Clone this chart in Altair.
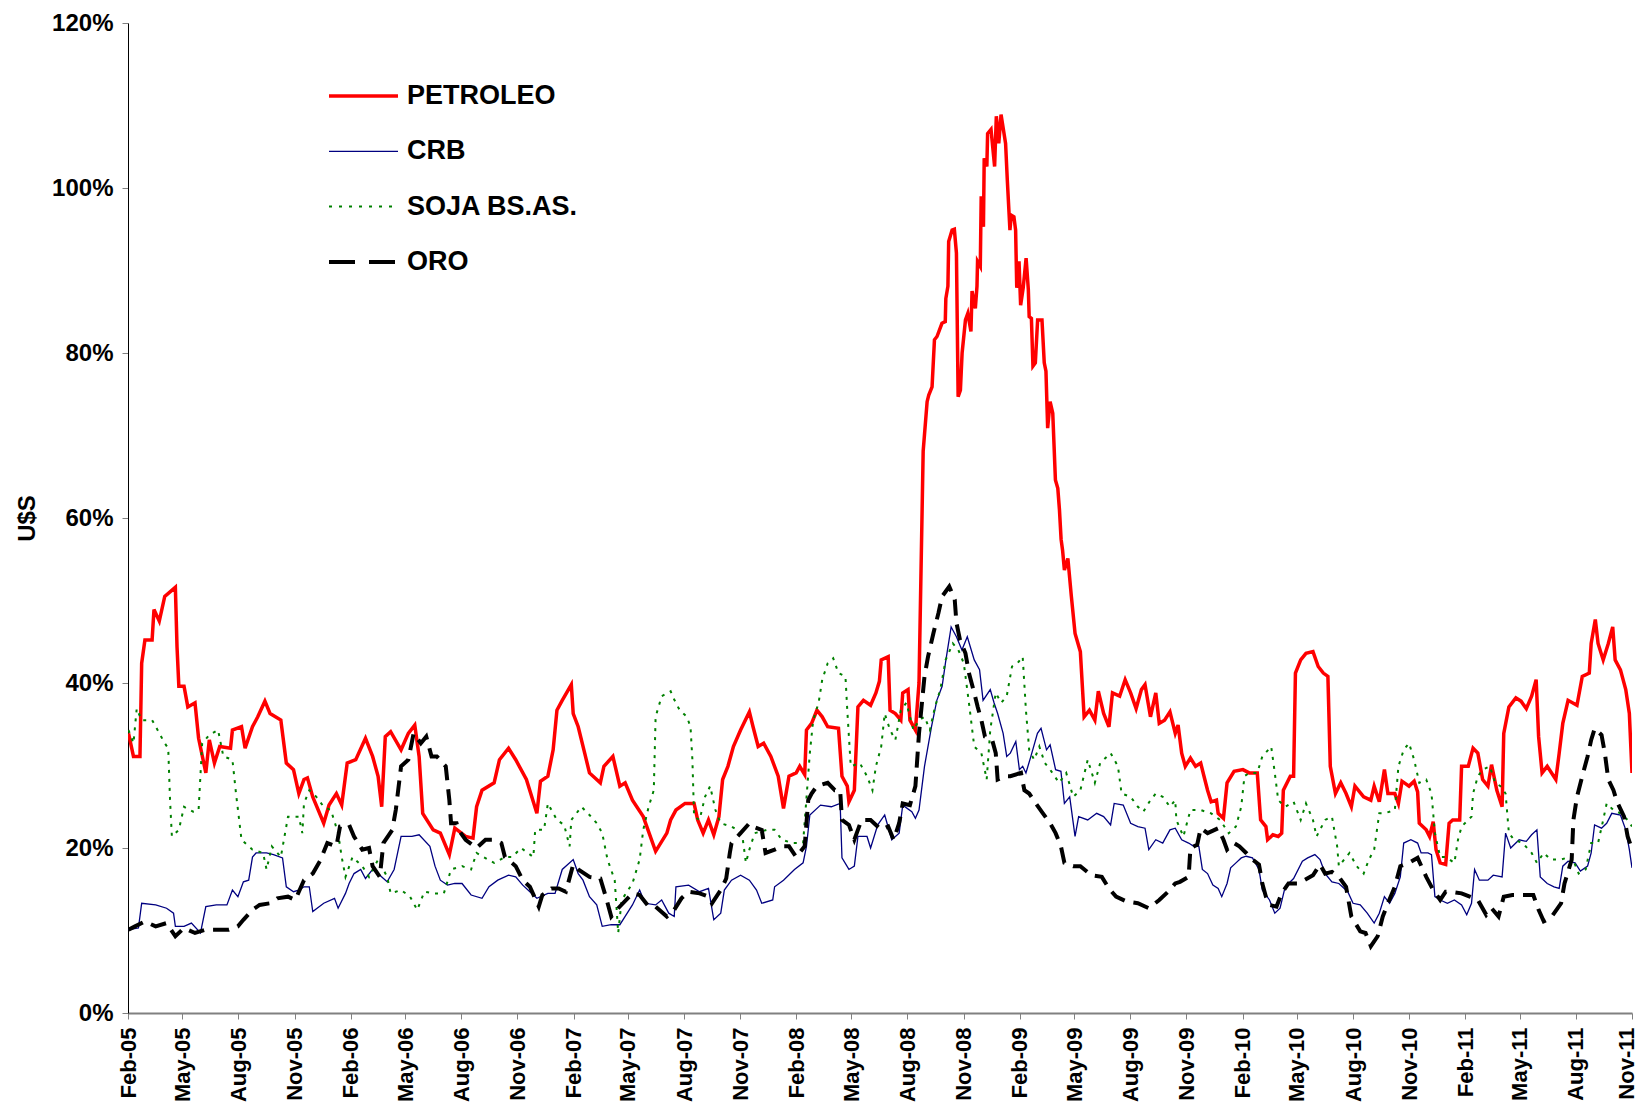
import altair as alt
import pandas as pd
import numpy as np

# (months after Feb-2005, percent)
PETROLEO = [(0.03,33.9),(0.32,31.1),(0.70,31.1),(0.80,42.4),(0.99,45.2),(1.37,45.2),(1.47,48.9),(1.75,47.5),(2.04,50.5),(2.62,51.6),
(2.71,44.4),(2.81,39.6),(3.09,39.6),(3.29,37.1),(3.67,37.6),(3.86,33.3),(4.25,29.1),(4.44,33.1),(4.72,30.3),(5.01,32.3),
(5.58,32.1),(5.68,34.3),(6.16,34.7),(6.35,32.1),(6.74,34.7),(7.02,35.9),(7.41,37.8),(7.69,36.3),(8.27,35.5),(8.56,30.3),
(8.94,29.5),(9.23,26.6),(9.51,28.3),(9.70,28.5),(9.99,26.2),(10.57,23.0),(10.85,25.2),(11.24,26.6),(11.52,25.2),(11.81,30.3),
(12.29,30.7),(12.86,33.3),(13.25,31.1),(13.54,28.7),(13.73,25.0),(13.92,33.5),(14.21,34.1),(14.78,31.9),(15.17,33.9),(15.51,34.9),
(15.74,31.1),(15.93,24.2),(16.50,22.2),(16.89,21.8),(17.37,19.2),(17.66,22.4),(18.23,21.4),(18.62,21.2),(18.81,25.0),(19.10,27.0),
(19.76,27.9),(20.05,30.7),(20.53,32.1),(20.91,30.7),(21.49,28.3),(22.06,24.2),(22.25,28.1),(22.64,28.7),(22.92,31.9),(23.12,36.7),
(23.40,37.9),(23.88,39.8),(23.98,36.3),(24.27,34.7),(24.65,31.5),(24.93,29.1),(25.51,27.9),(25.70,29.9),(26.18,31.1),(26.56,27.5),
(26.85,27.9),(27.24,25.8),(27.81,23.8),(28.48,19.6),(29.09,21.8),(29.29,23.4),(29.57,24.6),(30.05,25.4),(30.53,25.4),(30.72,23.4),
(31.01,21.8),(31.30,23.4),(31.59,21.6),(31.87,23.8),(32.07,28.3),(32.35,29.9),(32.64,32.3),(33.02,34.3),(33.50,36.5),(33.70,34.7),
(33.98,32.3),(34.27,32.7),(34.65,31.1),(35.04,28.7),(35.32,24.8),(35.61,28.7),(35.99,29.1),(36.19,29.9),(36.47,28.9),(36.57,34.3),
(36.86,35.1),(37.15,36.7),(37.43,35.9),(37.72,34.7),(38.30,34.5),(38.49,28.7),(38.78,27.5),(38.87,25.6),(39.16,27.0),(39.35,37.1),
(39.64,37.9),(40.02,37.3),(40.31,38.8),(40.50,40.2),(40.60,42.8),(40.98,43.2),(41.08,36.7),(41.36,36.3),(41.65,35.5),(41.75,38.8),
(42.03,39.2),(42.13,35.5),(42.42,34.3),(42.61,40.0),(42.83,68.1),(43.04,74.1),(43.13,74.9),(43.31,75.9),(43.44,81.6),(43.58,82.0),
(43.85,83.6),(44.03,83.8),(44.06,86.6),(44.17,88.1),(44.21,93.5),(44.39,94.9),(44.51,95.0),(44.62,92.1),(44.71,74.7),(44.83,75.5),
(44.92,80.0),(45.10,84.0),(45.23,84.8),(45.40,82.6),(45.46,87.5),(45.64,85.4),(45.73,88.1),(45.76,91.1),(45.91,90.5),(45.96,99.0),
(46.08,95.3),(46.12,103.6),(46.26,102.6),(46.30,106.6),(46.48,107.1),(46.67,102.6),(46.76,108.7),(46.89,105.4),(47.01,108.9),(47.25,105.4),
(47.34,101.0),(47.48,94.9),(47.55,96.7),(47.69,96.5),(47.78,94.9),(47.84,87.9),(47.96,91.1),(48.05,85.8),(48.20,87.9),(48.37,91.5),
(48.50,87.7),(48.55,84.4),(48.68,84.2),(48.77,78.4),(48.91,78.8),(49.04,84.0),(49.27,84.0),(49.39,78.8),(49.48,77.8),(49.57,70.9),
(49.70,74.1),(49.84,72.7),(49.98,64.6),(50.11,63.6),(50.20,61.0),(50.29,57.4),(50.37,56.1),(50.47,53.7),(50.66,55.1),(50.85,50.5),
(51.05,46.0),(51.33,43.8),(51.53,35.9),(51.81,36.7),(52.10,35.5),(52.29,39.0),(52.58,36.3),(52.87,34.7),(53.06,38.8),(53.44,38.4),
(53.73,40.4),(54.02,38.8),(54.31,36.9),(54.59,39.2),(54.78,39.8),(55.07,35.9),(55.36,38.8),(55.55,35.1),(55.84,35.5),(56.13,36.5),
(56.41,33.9),(56.56,34.9),(56.75,31.5),(56.94,29.9),(57.22,30.9),(57.50,29.9),(57.78,30.3),(57.96,28.7),(58.15,27.0),(58.34,25.6),
(58.62,25.8),(58.71,24.2),(58.99,23.6),(59.18,27.9),(59.55,29.3),(60.02,29.5),(60.39,29.1),(60.86,29.1),(61.05,23.4),(61.33,22.6),
(61.42,21.0),(61.70,21.6),(61.98,21.4),(62.17,21.8),(62.26,27.0),(62.64,28.7),(62.82,28.7),(62.92,41.2),(63.20,42.8),(63.48,43.6),
(63.85,43.8),(64.13,42.0),(64.41,41.2),(64.66,40.8),(64.79,29.9),(65.07,26.6),(65.35,27.9),(65.63,26.6),(65.91,25.0),(66.10,27.5),
(66.56,26.2),(66.94,25.8),(67.12,27.5),(67.40,25.6),(67.68,29.5),(67.87,26.6),(68.24,26.6),(68.43,25.4),(68.62,28.1),(68.99,27.5),
(69.27,28.1),(69.46,26.8),(69.55,23.0),(69.93,22.2),(70.11,21.4),(70.30,23.2),(70.45,19.8),(70.67,18.2),(70.96,18.0),(71.14,23.0),
(71.33,23.4),(71.70,23.4),(71.80,29.9),(72.17,29.9),(72.45,32.1),(72.73,31.5),(73.01,28.3),(73.29,27.5),(73.48,30.1),(73.76,27.0),
(74.04,25.0),(74.13,33.9),(74.41,37.1),(74.79,38.2),(75.07,37.8),(75.35,36.9),(75.63,38.4),(75.87,40.4),(76.00,33.5),(76.19,29.1),
(76.47,29.9),(76.94,28.3),(77.12,31.5),(77.31,35.1),(77.59,37.9),(78.06,37.3),(78.34,40.8),(78.71,41.2),(78.81,44.8),(79.03,47.7),
(79.18,44.8),(79.46,42.8),(79.74,44.8),(79.98,46.8),(80.11,42.8),(80.39,41.6),(80.67,39.2),(80.86,36.3),(81.0,29.1)]

CRB = [(0.03,10.1),(0.61,10.3),(0.80,13.3),(1.56,13.1),(2.14,12.7),(2.52,12.1),(2.62,10.5),(3.09,10.5),(3.48,10.9),(3.96,9.7),
(4.25,12.9),(4.82,13.1),(5.39,13.1),(5.68,14.9),(5.97,14.1),(6.26,15.9),(6.54,16.1),(6.74,18.9),(6.93,19.4),(7.50,19.4),
(7.88,19.2),(8.36,18.8),(8.56,15.3),(8.94,14.7),(9.23,14.9),(9.51,15.3),(9.80,15.3),(9.99,12.3),(10.57,13.3),(11.14,13.9),
(11.33,12.7),(11.72,14.5),(11.91,15.7),(12.19,16.9),(12.58,17.4),(12.86,16.3),(13.25,17.4),(13.63,16.7),(14.02,15.9),(14.40,17.4),
(14.59,19.4),(14.78,21.4),(15.36,21.4),(15.74,21.6),(16.32,20.2),(16.60,17.8),(16.89,16.1),(17.27,15.5),(17.66,15.7),(18.04,15.7),
(18.52,14.3),(19.10,13.9),(19.48,15.3),(19.96,16.1),(20.53,16.7),(20.91,16.5),(21.29,15.5),(21.68,14.7),(22.06,13.9),(22.64,14.5),
(23.02,14.5),(23.40,17.4),(23.98,18.6),(24.27,16.9),(24.55,16.1),(24.93,14.1),(25.32,13.1),(25.61,10.5),(26.09,10.7),(26.56,10.7),
(26.85,11.7),(27.24,13.1),(27.62,14.9),(27.91,13.3),(28.48,13.1),(28.81,13.7),(29.19,12.1),(29.48,11.7),(29.57,15.3),(30.24,15.5),
(30.82,14.7),(31.30,15.1),(31.59,11.3),(31.97,12.1),(32.16,14.9),(32.54,16.1),(33.02,16.7),(33.50,16.1),(33.89,14.9),(34.17,13.3),
(34.75,13.7),(34.85,15.3),(35.32,16.1),(35.90,17.4),(36.38,18.2),(36.57,20.2),(36.76,24.0),(37.34,25.2),(37.91,25.0),(38.39,25.4),
(38.49,18.8),(38.87,17.4),(39.16,17.8),(39.35,21.4),(39.83,21.4),(40.02,20.0),(40.41,22.8),(40.79,24.0),(41.17,21.0),(41.56,21.8),
(41.75,25.2),(42.23,24.4),(42.42,23.6),(42.61,24.6),(42.90,29.9),(43.28,34.7),(43.57,37.9),(43.86,39.6),(44.05,42.6),(44.34,46.8),
(44.62,45.6),(44.91,44.0),(45.20,45.6),(45.58,42.8),(45.87,41.6),(46.06,37.9),(46.44,39.2),(46.64,37.6),(46.83,36.3),(47.12,33.9),
(47.31,31.1),(47.50,31.5),(47.79,32.9),(47.98,29.5),(48.17,29.9),(48.36,29.1),(48.65,31.1),(49.03,33.9),(49.22,34.5),(49.51,31.9),
(49.70,32.5),(49.99,29.5),(50.28,29.3),(50.47,25.4),(50.76,26.2),(51.05,21.4),(51.24,23.8),(51.72,23.4),(52.20,24.2),(52.58,23.8),
(52.96,22.8),(53.15,25.4),(53.63,25.2),(54.02,23.0),(54.40,22.6),(54.78,22.4),(54.98,19.8),(55.36,21.0),(55.74,20.6),(56.13,22.2),
(56.41,22.4),(56.75,21.0),(57.12,20.6),(57.40,20.2),(57.68,20.2),(57.87,17.4),(58.15,16.9),(58.43,15.5),(58.71,15.1),(58.90,14.1),
(59.18,15.7),(59.37,17.6),(59.65,18.2),(59.93,18.8),(60.21,19.0),(60.58,18.8),(60.96,17.4),(61.14,14.9),(61.52,13.7),(61.80,12.1),
(62.08,12.7),(62.36,15.3),(62.82,16.3),(63.29,18.4),(63.57,18.8),(63.95,19.2),(64.23,18.6),(64.51,16.9),(64.88,15.9),(65.25,15.7),
(65.72,14.7),(66.00,13.3),(66.38,13.1),(66.75,12.1),(67.12,10.9),(67.40,12.1),(67.68,14.1),(67.96,13.3),(68.24,14.5),(68.53,16.5),
(68.71,20.6),(69.09,21.0),(69.46,20.6),(69.65,19.4),(70.02,19.4),(70.21,19.2),(70.39,14.1),(70.67,13.7),(71.05,13.3),(71.42,13.7),
(71.80,13.1),(72.08,11.9),(72.36,13.3),(72.54,17.4),(72.82,16.1),(73.29,16.1),(73.57,16.7),(74.04,16.5),(74.23,21.8),(74.51,20.0),
(74.97,21.0),(75.35,20.8),(75.63,21.6),(75.91,22.2),(76.09,16.5),(76.47,15.7),(76.84,15.3),(77.12,15.1),(77.31,17.8),(77.59,18.4),
(77.96,18.2),(78.24,17.2),(78.62,17.8),(78.81,19.4),(78.99,22.8),(79.37,22.4),(79.65,23.0),(79.93,24.2),(80.39,24.0),(80.67,22.2),
(80.86,19.8),(81.0,17.6)]

SOJA = [(0.03,34.3),(0.32,32.7),(0.51,36.9),(0.80,35.5),(1.37,35.5),(1.66,34.3),(2.04,32.7),(2.23,32.1),(2.33,25.8),(2.43,21.4),
(2.81,22.2),(3.09,25.0),(3.57,24.4),(3.86,24.6),(4.05,32.7),(4.44,33.7),(4.92,34.3),(5.20,31.1),(5.68,30.7),(5.87,26.6),
(6.16,21.0),(6.74,19.8),(7.31,19.4),(7.50,17.4),(7.79,20.2),(8.27,18.9),(8.65,23.8),(9.23,23.8),(9.42,21.8),(9.51,25.4),
(9.80,27.0),(10.18,26.2),(10.57,25.0),(10.95,24.6),(11.33,21.8),(11.52,18.9),(11.72,16.5),(12.10,18.9),(12.67,17.8),(13.06,16.5),
(13.54,18.6),(14.02,16.5),(14.21,14.5),(14.78,14.9),(15.26,14.1),(15.64,12.5),(16.02,14.7),(16.50,14.5),(17.08,14.5),(17.46,17.4),
(18.04,17.8),(18.52,17.4),(18.81,19.4),(19.19,18.9),(19.76,18.2),(20.34,18.9),(20.72,18.9),(21.20,20.0),(21.87,18.9),(21.97,22.2),
(22.44,22.2),(22.64,25.4),(23.12,23.4),(23.50,22.8),(23.79,20.2),(23.88,23.4),(24.46,25.0),(24.93,24.0),(25.32,23.0),(25.61,21.8),
(25.89,18.6),(26.28,16.1),(26.47,9.7),(26.66,13.7),(27.24,15.7),(27.62,18.6),(27.81,22.2),(28.10,25.0),(28.38,27.0),(28.48,35.9),
(28.81,38.4),(29.29,39.0),(29.48,38.0),(29.77,36.7),(30.15,35.9),(30.34,34.7),(30.44,30.7),(30.53,23.8),(30.82,23.4),(31.11,26.2),
(31.39,27.5),(31.68,24.6),(31.97,23.0),(32.54,22.6),(32.83,22.2),(33.12,21.4),(33.31,18.2),(33.50,19.8),(33.79,21.8),(34.46,22.2),
(34.85,22.2),(35.23,21.0),(35.80,20.6),(36.38,20.6),(36.76,31.5),(36.95,35.5),(37.24,37.6),(37.43,40.4),(37.72,42.4),(38.01,43.0),
(38.30,41.2),(38.68,40.8),(38.78,36.7),(38.97,29.9),(39.45,30.3),(39.83,28.7),(40.12,27.0),(40.31,29.9),(40.60,32.3),(40.79,36.3),
(41.08,34.3),(41.36,33.1),(41.65,36.7),(41.94,37.6),(42.32,34.3),(42.61,35.5),(42.90,35.9),(43.19,34.3),(43.47,37.1),(43.76,39.2),
(44.05,42.8),(44.43,44.8),(44.72,44.0),(45.01,42.4),(45.29,37.6),(45.58,32.3),(45.97,31.5),(46.25,28.3),(46.44,34.3),(46.73,38.8),
(47.02,37.6),(47.31,38.4),(47.59,42.0),(47.88,42.4),(48.17,43.2),(48.36,36.7),(48.55,31.9),(48.84,30.7),(49.13,32.3),(49.42,30.3),
(49.70,29.5),(50.18,27.9),(50.57,29.1),(50.95,26.2),(51.33,27.0),(51.72,30.7),(52.10,27.9),(52.39,30.3),(52.96,31.5),(53.35,29.9),
(53.54,26.6),(54.02,26.2),(54.40,25.0),(54.69,24.4),(55.07,25.8),(55.36,26.6),(55.74,26.2),(56.13,25.0),(56.41,25.8),(56.47,23.4),
(56.84,21.4),(57.22,24.6),(57.78,24.6),(58.34,24.2),(58.81,23.4),(59.27,21.8),(59.65,22.6),(59.93,25.0),(60.11,28.7),(60.39,29.1),
(60.86,29.1),(61.14,31.1),(61.61,32.3),(61.80,29.1),(61.98,25.8),(62.36,25.0),(62.82,25.6),(63.20,23.4),(63.48,25.4),(63.85,23.4),
(64.04,21.4),(64.51,23.4),(64.88,23.8),(65.16,20.2),(65.25,17.8),(65.81,19.4),(66.19,17.8),(66.56,16.9),(66.84,18.6),(67.12,19.8),
(67.40,24.2),(67.68,24.2),(68.24,24.6),(68.43,29.9),(68.71,31.9),(68.99,32.7),(69.27,30.7),(69.55,27.9),(69.93,28.3),(70.21,26.6),
(70.39,21.8),(70.67,18.9),(70.96,18.9),(71.42,18.2),(71.61,21.0),(71.80,22.6),(72.17,23.4),(72.36,23.8),(72.45,26.6),(72.73,28.7),
(73.01,29.5),(73.39,29.9),(73.67,27.9),(73.95,27.5),(74.23,26.6),(74.41,21.8),(74.69,21.0),(75.16,20.6),(75.63,19.4),(75.91,18.2),
(76.28,19.4),(76.66,18.6),(77.22,18.6),(77.78,19.0),(78.15,16.9),(78.52,17.4),(78.81,20.6),(79.18,20.6),(79.46,23.4),(79.65,25.4),
(80.02,24.6),(80.39,24.2),(80.77,23.4),(81.0,22.6)]

ORO = [(0.03,10.1),(0.41,10.5),(0.99,11.1),(1.56,10.5),(2.14,10.9),(2.62,9.3),(3.09,10.3),(3.67,9.7),(4.25,10.1),(5.01,10.1),
(5.49,10.1),(5.97,10.5),(6.26,11.3),(6.74,12.5),(7.12,13.1),(7.69,13.3),(8.08,13.9),(8.65,14.1),(9.03,13.7),(9.51,16.1),
(9.99,16.9),(10.37,18.4),(10.76,20.6),(11.24,20.2),(11.43,22.6),(11.91,22.8),(12.19,21.4),(12.67,19.8),(13.06,20.0),(13.25,17.8),
(13.63,16.5),(13.82,20.6),(14.30,22.2),(14.49,24.6),(14.78,29.9),(15.17,30.7),(15.45,33.9),(15.83,32.7),(16.12,33.5),(16.41,31.1),
(16.70,31.1),(17.18,29.9),(17.37,25.8),(17.46,23.0),(17.75,23.0),(17.85,22.2),(18.23,21.0),(18.81,20.0),(19.29,21.0),(19.76,21.0),
(20.15,20.6),(20.34,18.9),(20.91,17.8),(21.29,16.1),(21.68,15.3),(22.16,12.9),(22.35,14.3),(22.83,15.1),(23.21,15.1),(23.59,14.7),
(23.98,18.0),(24.27,17.4),(24.93,16.5),(25.51,16.3),(25.80,14.1),(26.09,11.7),(26.47,12.7),(27.24,14.5),(27.62,14.3),(28.10,12.9),
(28.48,12.9),(29.09,11.7),(29.48,12.5),(29.86,13.9),(30.24,14.7),(30.82,14.5),(31.30,14.1),(31.49,13.3),(31.97,14.9),(32.26,16.3),
(32.45,19.4),(32.54,20.6),(33.02,21.8),(33.50,23.0),(33.70,22.6),(34.17,22.2),(34.37,19.4),(34.85,19.8),(35.23,20.2),(35.61,20.2),
(35.99,18.9),(36.47,20.2),(36.67,25.8),(36.86,26.6),(37.15,27.5),(37.72,27.9),(38.10,27.0),(38.39,27.0),(38.49,23.4),(38.87,22.8),
(39.16,21.0),(39.54,23.4),(40.02,23.4),(40.60,22.2),(40.98,22.6),(41.27,21.0),(41.56,23.0),(41.75,25.4),(42.13,25.2),(42.42,27.5),
(42.61,33.9),(42.71,36.3),(42.90,40.8),(43.09,43.2),(43.38,46.0),(43.66,48.5),(43.86,50.5),(44.24,51.7),(44.53,50.1),(44.62,47.3),
(44.81,45.2),(45.10,43.6),(45.29,41.2),(45.58,38.8),(45.77,37.1),(45.97,35.5),(46.16,33.5),(46.54,33.1),(46.73,31.5),(46.83,28.3),
(47.21,28.7),(47.50,28.7),(48.07,29.1),(48.27,27.0),(48.55,26.6),(48.94,25.4),(49.32,24.2),(49.70,23.0),(49.99,21.8),(50.28,20.2),
(50.47,18.2),(50.95,17.8),(51.33,17.8),(51.91,16.7),(52.48,16.5),(52.87,15.1),(53.25,14.1),(53.83,13.5),(54.40,13.3),(54.98,12.7),
(55.55,13.7),(56.03,14.7),(56.41,15.7),(56.66,15.9),(57.12,16.5),(57.22,20.0),(57.59,20.4),(57.78,22.4),(58.15,21.8),(58.71,22.4),
(58.99,21.0),(59.18,19.8),(59.55,20.6),(59.83,20.2),(60.21,19.4),(60.58,18.6),(60.96,18.0),(61.14,15.7),(61.33,14.1),(61.52,13.1),
(61.89,12.9),(62.17,14.5),(62.54,15.7),(63.01,15.7),(63.38,16.1),(63.85,16.7),(64.23,18.0),(64.51,16.9),(64.88,17.1),(65.25,16.5),
(65.63,15.3),(65.91,11.7),(66.38,9.9),(66.66,9.7),(66.94,8.1),(67.31,9.3),(67.59,11.7),(67.87,13.3),(68.24,15.3),(68.53,17.8),
(68.99,18.2),(69.46,18.8),(69.93,16.5),(70.30,14.9),(70.67,13.7),(70.96,14.7),(71.24,14.7),(71.80,14.5),(72.26,14.1),(72.73,13.7),
(73.20,11.9),(73.48,12.7),(73.85,11.7),(74.13,14.1),(74.60,14.3),(75.16,14.3),(75.72,14.3),(76.00,12.5),(76.28,11.1),(76.66,11.5),
(77.22,13.3),(77.40,15.7),(77.78,18.6),(77.87,23.4),(78.06,26.2),(78.34,28.7),(78.62,31.1),(78.81,33.1),(79.00,34.5),(79.37,33.7),
(79.55,31.5),(79.74,28.3),(80.02,27.0),(80.21,25.6),(80.58,23.8),(80.77,21.4),(80.95,20.2),(81.0,19.8)]

SERIES_NAMES = ["PETROLEO", "CRB", "SOJA BS.AS.", "ORO"]
SERIES_DATA = [PETROLEO, CRB, SOJA, ORO]
Y_TICKS = [0, 20, 40, 60, 80, 100, 120]
X_START = (2005, 2)
X_END = (2011, 11)

FONT = "Liberation Sans"
BASE = pd.Timestamp(year=X_START[0], month=X_START[1], day=1)


def to_date(t):
    w = int(np.floor(t))
    f = t - w
    d0 = BASE + pd.DateOffset(months=w)
    d1 = BASE + pd.DateOffset(months=w + 1)
    return d0 + (d1 - d0) * f


tick_dates = pd.date_range(BASE, pd.Timestamp(year=X_END[0], month=X_END[1], day=1), freq="3MS")
tick_values = [alt.DateTime(year=d.year, month=d.month, date=1) for d in tick_dates]

x_enc = alt.X(
    "fecha:T",
    scale=alt.Scale(domain=[alt.DateTime(year=X_START[0], month=X_START[1], date=1),
                            alt.DateTime(year=X_END[0], month=X_END[1], date=1)]),
    axis=alt.Axis(values=tick_values, format="%b-%y", labelAngle=-90, title=None,
                  labelFont=FONT, labelFontSize=22, labelFontWeight="bold", labelColor="black",
                  labelPadding=8, tickSize=6, tickColor="#808080", domainColor="#808080",
                  domainWidth=2, grid=False, labelOverlap=False, labelFlush=False,
                  labelOffset={"condition": {"test": "datum.index == 1", "value": -6}, "value": 0}),
)
y_enc = alt.Y(
    "valor:Q",
    scale=alt.Scale(domain=[0, 120], nice=False),
    axis=alt.Axis(values=Y_TICKS, labelExpr="datum.value + '%'", title="U$S",
                  labelFont=FONT, labelFontSize=24, labelFontWeight="bold", labelColor="black",
                  labelPadding=9, tickSize=6, tickColor="#808080", domainColor="black",
                  grid=False, titleFont=FONT, titleFontSize=24, titleFontWeight="bold",
                  titleColor="black", titleAngle=-90, titleX=-101, titleY=495,
                  titleAlign="center", titleBaseline="middle"),
)

STYLES = {
    "PETROLEO": dict(color="#FF0000", strokeWidth=3.5),
    "CRB": dict(color="#000080", strokeWidth=1.3),
    "SOJA BS.AS.": dict(color="#008000", strokeWidth=2, strokeDash=[3, 6]),
    "ORO": dict(color="#000000", strokeWidth=4, strokeDash=[16, 9]),
}
LEGEND_DASH = {"SOJA BS.AS.": [3, 7], "ORO": [26, 14]}

layers = []
for name, pts in zip(SERIES_NAMES, SERIES_DATA):
    df = pd.DataFrame({"fecha": [to_date(t) for t, _ in pts], "valor": [v for _, v in pts]})
    layers.append(alt.Chart(df).mark_line(clip=True, **STYLES[name]).encode(x=x_enc, y=y_enc))

dummy = alt.Data(values=[{"a": 1}])
for i, name in enumerate(SERIES_NAMES):
    st = dict(STYLES[name])
    if name in LEGEND_DASH:
        st["strokeDash"] = LEGEND_DASH[name]
    ypos = 73 + i * 55.3
    layers.append(alt.Chart(dummy).mark_rule(**st).encode(
        x=alt.value(201), x2=alt.value(270), y=alt.value(ypos)))
    layers.append(alt.Chart(dummy).mark_text(
        text=name, font=FONT, fontSize=27, fontWeight="bold", color="black",
        align="left", baseline="middle").encode(x=alt.value(279), y=alt.value(ypos)))

chart = alt.layer(*layers).properties(
    width=1504, height=990,
    autosize=alt.AutoSizeParams(type="none"),
    padding={"left": 120, "top": 15, "right": 6, "bottom": 90},
    background="white",
).configure_view(stroke=None)

chart.save("out.html", embed_options={"renderer": "svg", "actions": False})
